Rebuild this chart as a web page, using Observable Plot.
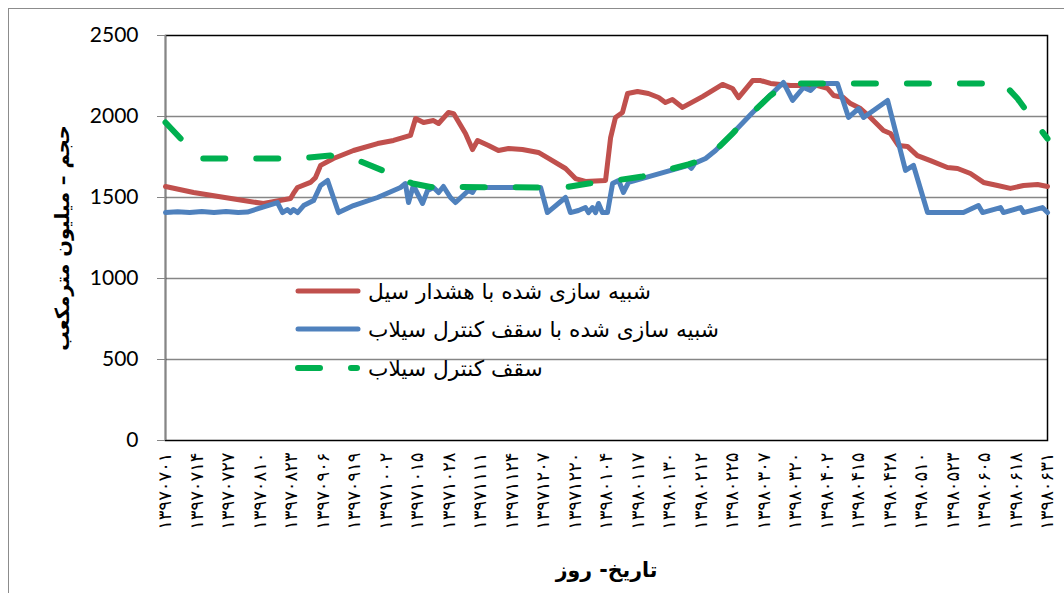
<!DOCTYPE html>
<html>
<head>
<meta charset="utf-8">
<script src="https://cdn.jsdelivr.net/npm/d3@7"></script>
<script src="https://cdn.jsdelivr.net/npm/@observablehq/plot@0.6"></script>
<style>
  html, body { margin: 0; padding: 0; background: white; }
  #wrap { position: relative; width: 1064px; height: 593px; overflow: hidden; background: white; }
  #outer { position: absolute; left: 8px; top: 8px; width: 1200px; height: 800px; border-left: 1px solid #8c8c8c; border-top: 1px solid #8c8c8c; }
  #legend { position: absolute; left: 0; top: 0; font-family: "DejaVu Sans", sans-serif; font-size: 21.7px; color: #000; }
  .row { position: absolute; left: 292px; display: flex; align-items: center; height: 30px; white-space: nowrap; }
  .row span { margin-left: 6px; }
  g[aria-label="x-axis tick label"] text { letter-spacing: 2.4px; }
</style>
</head>
<body>
<div id="wrap">
  <div id="outer"></div>
  <div id="chart"></div>
  <div id="legend"></div>
</div>
<script>
// ---- data ----
const tickLabels = ["۱۳۹۷۰۷۰۱","۱۳۹۷۰۷۱۴","۱۳۹۷۰۷۲۷","۱۳۹۷۰۸۱۰","۱۳۹۷۰۸۲۳","۱۳۹۷۰۹۰۶","۱۳۹۷۰۹۱۹","۱۳۹۷۱۰۰۲","۱۳۹۷۱۰۱۵","۱۳۹۷۱۰۲۸","۱۳۹۷۱۱۱۱","۱۳۹۷۱۱۲۴","۱۳۹۷۱۲۰۷","۱۳۹۷۱۲۲۰","۱۳۹۸۰۱۰۴","۱۳۹۸۰۱۱۷","۱۳۹۸۰۱۳۰","۱۳۹۸۰۲۱۲","۱۳۹۸۰۲۲۵","۱۳۹۸۰۳۰۷","۱۳۹۸۰۳۲۰","۱۳۹۸۰۴۰۲","۱۳۹۸۰۴۱۵","۱۳۹۸۰۴۲۸","۱۳۹۸۰۵۱۰","۱۳۹۸۰۵۲۳","۱۳۹۸۰۶۰۵","۱۳۹۸۰۶۱۸","۱۳۹۸۰۶۳۱"];
const tickDays = [0,13,26,39,52,65,78,91,104,117,130,143,156,169,182,195,208,221,234,247,260,273,286,299,312,325,338,351,364];
const yTicks = [0,500,1000,1500,2000,2500];

const seriesNames = ["شبیه سازی شده با هشدار سیل", "شبیه سازی شده با سقف کنترل سیلاب", "سقف کنترل سیلاب"];
const seriesColors = ["#C0504D", "#4F81BD", "#00B050"];

// day index (from 1397/07/01) and storage volume (million m3)
const redDays = [0,11.6,32.2,40.4,51.6,52.8,54.5,59.8,61.9,64.0,69.3,77.6,87.5,94.1,101.1,103.2,106.5,110.6,112.7,116.8,118.9,123.8,126.7,128.8,133.3,137.4,141.6,147.3,153.9,158.1,165.1,169.2,173.3,181.6,183.7,185.7,188.6,190.7,194.8,199.3,203.5,206.3,209.2,213.4,221.6,229.9,234.0,236.5,242.3,245.6,249.7,257.9,269.1,273.2,275.7,279.8,282.7,286.8,290.9,296.3,299.2,302.5,306.2,310.3,315.7,322.7,326.9,332.2,337.6,343.4,348.7,354.1,359.9,364];
const redValues = [1568,1531,1481,1463,1494,1525,1562,1593,1623,1698,1741,1790,1833,1852,1883,1988,1963,1975,1957,2025,2018,1895,1796,1852,1821,1790,1802,1796,1778,1741,1679,1617,1599,1605,1870,1994,2025,2142,2154,2142,2117,2086,2105,2056,2123,2198,2173,2117,2222,2222,2204,2191,2191,2173,2130,2117,2080,2049,1994,1914,1895,1821,1815,1759,1728,1685,1679,1648,1593,1574,1556,1574,1580,1568];

const blueDays = [0,5,10,15,20,25,30,33.8,46.2,48.3,50.3,51.6,52.8,54.5,57.0,61.1,64.0,66.9,71.4,77.6,87.5,97.0,99.0,100.3,102.3,106.1,108.1,110.6,112.7,114.7,117.6,119.7,125.0,126.7,127.9,154.8,157.6,165.1,167.1,170.4,173.3,174.6,176.2,177.5,178.7,180.3,182.4,184.5,187.0,189.0,191.1,215.8,217.0,218.5,222.9,227.0,234.0,242.3,255.0,258.8,263.3,266.2,269.1,277.3,281.9,286.0,288.1,298.0,305.4,308.7,314.5,329.3,335.5,337.2,344.6,345.8,352.9,354.1,361.9,364];
const blueValues = [1407,1412,1407,1413,1408,1414,1407,1410,1469,1407,1426,1407,1426,1407,1450,1481,1574,1605,1407,1450,1500,1562,1586,1469,1574,1463,1543,1562,1531,1568,1500,1469,1543,1531,1562,1562,1407,1500,1407,1420,1438,1407,1438,1407,1463,1407,1407,1586,1605,1531,1593,1698,1680,1712,1741,1790,1895,2025,2210,2099,2179,2160,2204,2204,1994,2049,1994,2099,1667,1698,1407,1407,1450,1407,1438,1407,1438,1407,1438,1407];

const greenDays = [0,7.0,14.4,55.0,68.0,79.6,89.6,102.0,109.4,154.8,164.3,174.6,185.7,196.9,215.8,222.9,227.0,234.0,242.3,249.7,256.7,345.8,351.6,358.2,364];
const greenValues = [1963,1852,1741,1741,1759,1728,1667,1586,1565,1562,1562,1586,1605,1630,1704,1741,1790,1895,2025,2130,2204,2204,2111,1975,1864];

const yTitle = "حجم – میلیون مترمکعب";
const xTitle = "تاریخ- روز";

// ---- build ----
const toRows = (days, vals) => days.map((d, i) => ({day: d, value: vals[i]}));
const redRows = toRows(redDays, redValues);
const blueRows = toRows(blueDays, blueValues);
const greenRows = toRows(greenDays, greenValues);

const chart = Plot.plot({
  width: 1064,
  height: 593,
  marginLeft: 165,
  marginRight: 17,
  marginTop: 35,
  marginBottom: 153,
  style: {background: "transparent", fontFamily: "Lato, sans-serif", color: "#000"},
  x: {domain: [0, 364]},
  y: {domain: [0, 2500]},
  marks: [
    Plot.gridY([500, 1000, 1500, 2000], {stroke: "#868686", strokeOpacity: 1, strokeWidth: 1.5}),
    Plot.frame({stroke: "#000", strokeWidth: 1.5}),
    Plot.ruleX([0], {stroke: "#868686", strokeWidth: 1.5}),
    Plot.axisY({ticks: yTicks, tickSize: 8, tickPadding: 19, fontSize: 21, stroke: "#868686", label: null, tickFormat: d => String(d)}),
    Plot.axisX({ticks: tickDays, tickFormat: (d) => tickLabels[tickDays.indexOf(d)], tickRotate: -90, tickSize: 0, tickPadding: 12, fontSize: 18, fontFamily: "DejaVu Sans", label: null}),
    Plot.line(redRows, {x: "day", y: "value", stroke: seriesColors[0], strokeWidth: 5, strokeLinejoin: "round", strokeLinecap: "round"}),
    Plot.line(blueRows, {x: "day", y: "value", stroke: seriesColors[1], strokeWidth: 5, strokeLinejoin: "round", strokeLinecap: "round"}),
    Plot.line(greenRows, {x: "day", y: "value", stroke: seriesColors[2], strokeWidth: 6, strokeDasharray: "22,31", strokeLinejoin: "round", strokeLinecap: "round"}),
    Plot.text([yTitle], {frameAnchor: "left", textAnchor: "middle", rotate: -90, dx: -103, fontSize: 19.5, fontWeight: "bold", fontFamily: "DejaVu Sans", text: d => d}),
    Plot.text([xTitle], {frameAnchor: "bottom", textAnchor: "middle", dy: 136, fontSize: 20.5, fontWeight: "bold", fontFamily: "DejaVu Sans", text: d => d})
  ]
});
document.getElementById("chart").appendChild(chart);

// legend
const legend = document.getElementById("legend");
const rowTops = [276, 314, 353];
seriesNames.forEach((name, i) => {
  const row = document.createElement("div");
  row.className = "row";
  row.style.top = rowTops[i] + "px";
  const dash = i === 2 ? 'stroke-dasharray="22,31"' : '';
  const w = i === 2 ? 6 : 5;
  row.innerHTML = `<svg width="70" height="12"><line x1="6" y1="6" x2="${i === 2 ? 65 : 66}" y2="6" stroke="${seriesColors[i]}" stroke-width="${w}" stroke-linecap="round" ${dash}/></svg><span>${name}</span>`;
  legend.appendChild(row);
});
</script>
</body>
</html>
